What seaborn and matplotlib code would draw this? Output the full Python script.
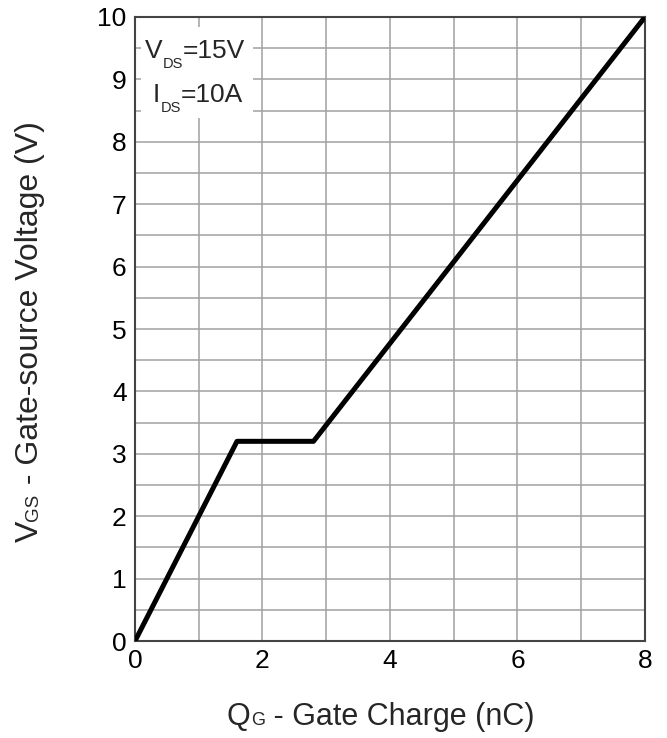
import pandas as pd
import numpy as np
import matplotlib
matplotlib.use("Agg")
import matplotlib.pyplot as plt
from matplotlib.transforms import IdentityTransform
from matplotlib.patches import Rectangle
import seaborn as sns

# Gate charge curve
gate_charge_nc = [0.0, 1.6, 2.8, 8.0]
vgs_volts = [0.0, 3.2, 3.2, 10.0]

x_ticks = [0, 2, 4, 6, 8]
y_ticks = [0, 1, 2, 3, 4, 5, 6, 7, 8, 9, 10]

sns.set_style("white")
plt.rcParams['font.family'] = ['Liberation Sans', 'DejaVu Sans']

df = pd.DataFrame({"qg": gate_charge_nc, "vgs": vgs_volts})

fig = plt.figure(figsize=(6.67, 7.38), dpi=100)
ax = fig.add_axes([0.2024, 0.1314, 0.7646, 0.8456])

sns.lineplot(data=df, x="qg", y="vgs", color="black", linewidth=3.6,
             sort=False, ax=ax, zorder=5)
ax.set_xlabel("")
ax.set_ylabel("")

ax.set_xlim(0, 8)
ax.set_ylim(0, 10)
ax.set_xticks(x_ticks)
ax.set_yticks(y_ticks)
ax.set_xticks(np.arange(0, 8.01, 1), minor=True)
ax.set_yticks(np.arange(0, 10.01, 0.5), minor=True)
ax.grid(True, which="both", color="#a0a0a0", linewidth=1.1)
ax.set_axisbelow(True)
ax.tick_params(axis="both", which="both", length=0, labelsize=19, pad=6,
               labelcolor="black")
for s in ax.spines.values():
    s.set_color("#444444")
    s.set_linewidth(1.5)

# white box behind the test conditions
ax.add_patch(Rectangle((0.012, 0.838), 0.219, 0.146, transform=ax.transAxes,
                       facecolor="white", edgecolor="none", zorder=3))

renderer = fig.canvas.get_renderer()


def rich_text(x, y, pieces, rotation=0):
    # pieces: (text, fontsize, baseline shift in px); placed one after another
    pos = 0.0
    for txt, size, shift in pieces:
        if rotation == 0:
            xy = (x + pos, y + shift)
        else:
            xy = (x - shift, y + pos)
        t = fig.text(xy[0], xy[1], txt, fontsize=size, ha="left", va="baseline",
                     rotation=rotation, rotation_mode="anchor",
                     transform=IdentityTransform(), zorder=6)
        bb = t.get_window_extent(renderer)
        pos += bb.width if rotation == 0 else bb.height


# axis labels with small, non-lowered G / GS
rich_text(227, 13, [("Q", 22, 0), ("G", 13, 0), (" - Gate Charge (nC)", 22, 0)])
rich_text(38, 196, [("V", 23, 0), ("GS", 13.5, 0), (" - Gate-source Voltage (V)", 23, 0)],
          rotation=90)

# test conditions
rich_text(145, 680, [("V", 19, 0), ("DS", 10.5, -10), ("=15V", 19, 0)])
rich_text(153, 636, [("I", 19, 0), ("DS", 10.5, -10), ("=10A", 19, 0)])

fig.savefig("out.png", dpi=100)
